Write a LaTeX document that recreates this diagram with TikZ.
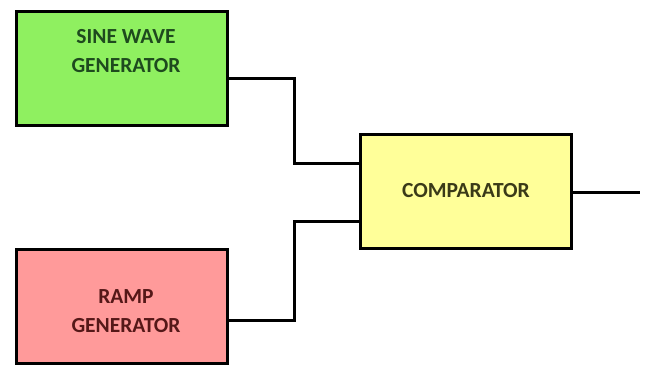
\documentclass[tikz,border=0pt]{standalone}
\usepackage{fontspec}
\setmainfont{Carlito}
\definecolor{gfill}{HTML}{8FF060}
\definecolor{rfill}{HTML}{FF9A9A}
\definecolor{yfill}{HTML}{FFFF99}
\definecolor{gtext}{HTML}{1E4A1E}
\definecolor{rtext}{HTML}{551818}
\definecolor{ytext}{HTML}{3A3A18}
\begin{document}
\begin{tikzpicture}[x=1pt,y=-1pt,
  blockbox/.style={draw=black,line width=3.5pt,minimum width=211pt,minimum height=114pt,inner sep=0pt},
  lbl/.style={font=\bfseries\fontsize{21.5}{29}\selectfont,align=center},
  wire/.style={line width=3pt,line join=miter}]
\useasboundingbox (0,0) rectangle (648,367);
\node[blockbox,fill=gfill] (sine) at (122,68.5) {};
\node[lbl,text=gtext] (sinet) at (126,51) {SINE WAVE\\GENERATOR};
\node[blockbox,fill=rfill] (ramp) at (122,306.5) {};
\node[lbl,text=rtext] (rampt) at (126,311) {RAMP\\GENERATOR};
\node[blockbox,fill=yfill] (comp) at (466,191.5) {};
\node[lbl,text=ytext] (compt) at (466,191) {COMPARATOR};
\coordinate (out) at (640,192);
\draw[wire] (sine.east |- 0,78) -| (294,163) -- (comp.west |- 0,163);
\draw[wire] (ramp.east |- 0,320) -| (294,221) -- (comp.west |- 0,221);
\draw[wire] (comp.east |- out) -- (out);
\end{tikzpicture}
\end{document}
